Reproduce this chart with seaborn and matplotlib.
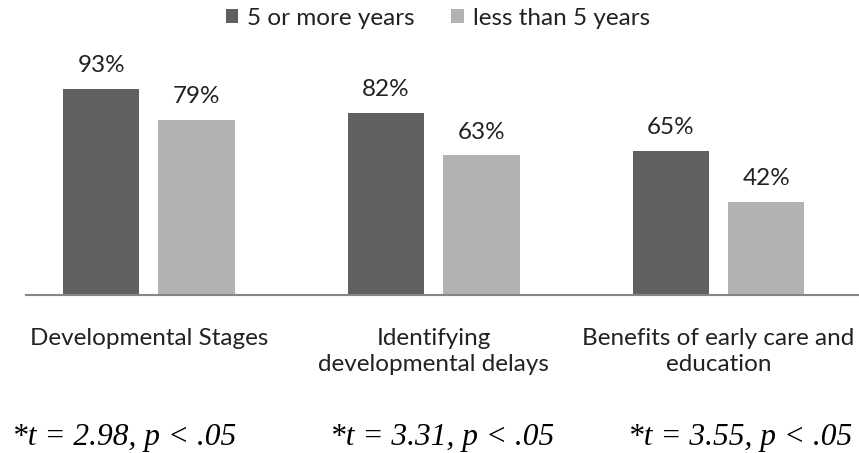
import pandas as pd
import seaborn as sns
import matplotlib.pyplot as plt

# -----------------------------
# Data
# -----------------------------
categories = ["Developmental Stages",
              "Identifying\ndevelopmental delays",
              "Benefits of early care and\neducation"]
groups = ["5 or more years", "less than 5 years"]
more_5 = [93, 82, 65]
less_5 = [79, 63, 42]
stats = ["*t = 2.98, p < .05", "*t = 3.31, p < .05", "*t = 3.55, p < .05"]

df = pd.DataFrame({
    "category": categories * 2,
    "group": [groups[0]] * 3 + [groups[1]] * 3,
    "value": more_5 + less_5,
})

# -----------------------------
# Plot
# -----------------------------
sns.set_style("white")
plt.rcParams["font.family"] = ["Lato", "DejaVu Sans"]

fig = plt.figure(figsize=(8.59, 4.53), dpi=100)
ax = fig.add_axes([26 / 859, 1 - 295 / 453, 833 / 859, 222 / 453])

sns.barplot(data=df, x="category", y="value", hue="group",
            palette=["#606060", "#b2b2b2"], width=0.67, gap=0.2,
            edgecolor="none", saturation=1, ax=ax)

for bars in ax.containers:
    ax.bar_label(bars, labels=[f"{v:.0f}%" for v in bars.datavalues],
                 padding=9, fontsize=17.5, color="#222222")

ax.set_xlim(-0.4316, 2.493)
ax.set_ylim(0, 100)
ax.set_xlabel("")
ax.set_ylabel("")
ax.set_yticks([])
ax.tick_params(axis="x", length=0, pad=24, labelsize=17.5, colors="#222222")
for lab in ax.get_xticklabels():
    lab.set_linespacing(1.3)

sns.despine(ax=ax, left=True)
ax.spines["bottom"].set_color("#868686")
ax.spines["bottom"].set_linewidth(1.5)

ax.legend(loc="center", bbox_to_anchor=(0.4946, 1.2477), ncol=2, frameon=False,
          fontsize=17.5, handlelength=0.5, handleheight=0.5, handletextpad=0.37,
          columnspacing=1.5, labelcolor="#222222")

xs = [12 / 859, 330 / 859, 628 / 859]
for x, s in zip(xs, stats):
    fig.text(x, 1 - 438 / 453, s, ha="left", va="center", fontsize=22.6,
             family=["Liberation Serif"], style="italic", color="black")

fig.savefig("out.png", dpi=100)
